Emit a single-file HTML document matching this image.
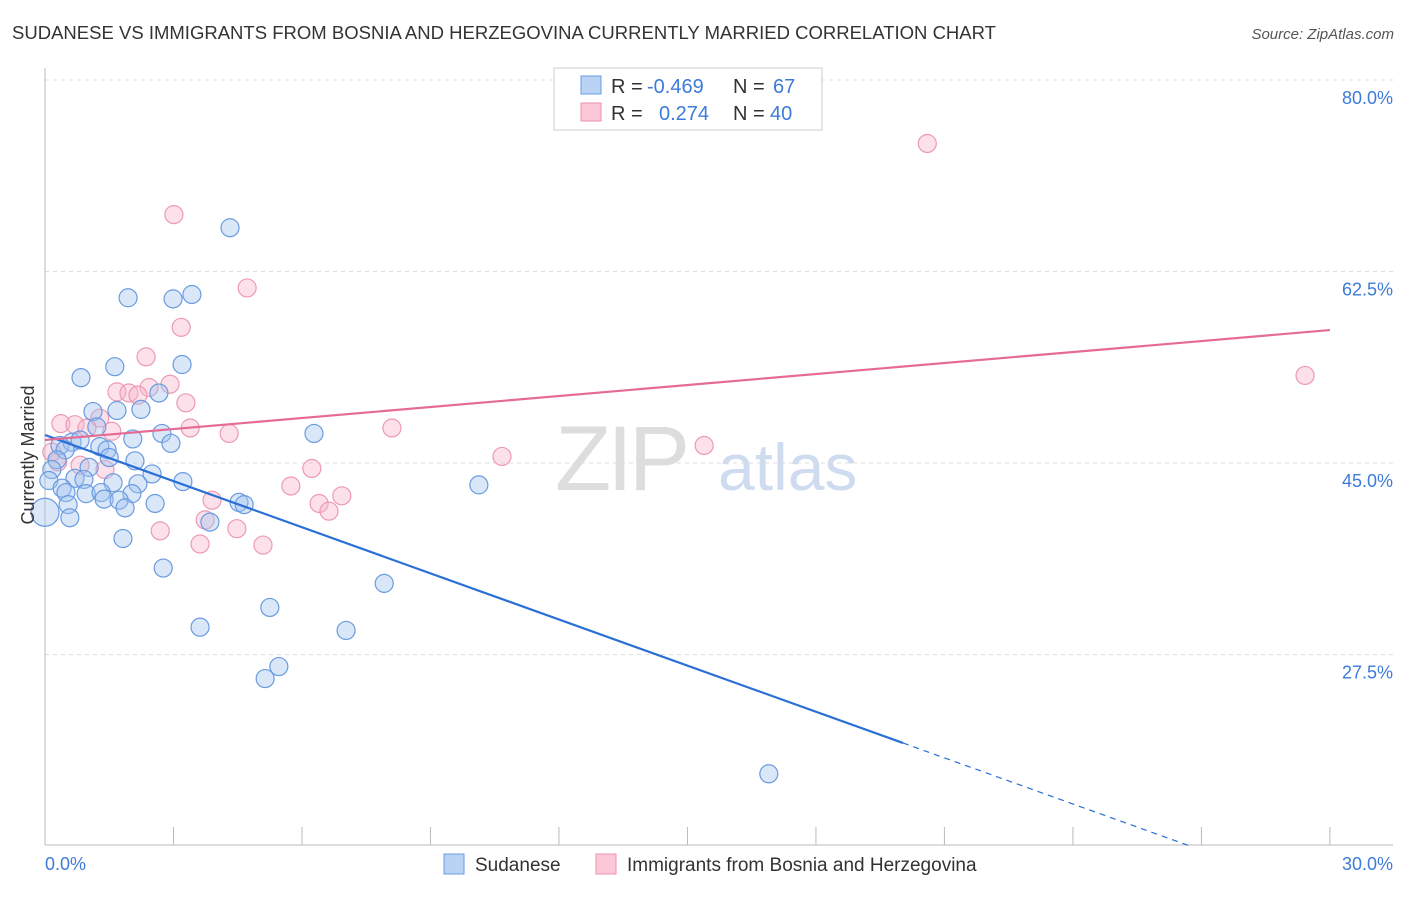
<!DOCTYPE html>
<html><head><meta charset="utf-8"><style>
body{margin:0;background:#fff;font-family:"Liberation Sans",sans-serif}
svg text{font-family:"Liberation Sans",sans-serif}
</style></head><body>
<svg id="chart" width="1406" height="892" xmlns="http://www.w3.org/2000/svg">
<text x="12" y="39" font-size="18" fill="#333" textLength="984" lengthAdjust="spacingAndGlyphs">SUDANESE VS IMMIGRANTS FROM BOSNIA AND HERZEGOVINA CURRENTLY MARRIED CORRELATION CHART</text>
<text x="1394" y="39" font-size="15" fill="#555" text-anchor="end" font-style="italic">Source: ZipAtlas.com</text>
<g>
<text x="555" y="490" font-size="92" fill="#ddd" font-family="Liberation Serif" letter-spacing="-4">ZIP</text>
<text x="718" y="490" font-size="66" fill="#cfdcf0">atlas</text>
</g>
<g id="grid"></g>
<g id="axes"></g>
<g id="pts"></g>
<g id="lines"></g>
<text transform="translate(34,455) rotate(-90)" font-size="18" fill="#333" text-anchor="middle">Currently Married</text>
<g font-size="20">
<rect x="554" y="68" width="268" height="62" fill="#fff" stroke="#ccc"/>
<rect x="581" y="76" width="20" height="18" fill="#b9d3f5" stroke="#6a9be0"/>
<rect x="581" y="103" width="20" height="18" fill="#fcc8d8" stroke="#ec92ae"/>
<text x="611" y="93" fill="#333">R =</text>
<text x="647" y="93" fill="#3d7bd9">-0.469</text>
<text x="733" y="93" fill="#333">N =</text>
<text x="773" y="93" fill="#3d7bd9">67</text>
<text x="611" y="120" fill="#333">R =</text>
<text x="659" y="120" fill="#3d7bd9">0.274</text>
<text x="733" y="120" fill="#333">N =</text>
<text x="770" y="120" fill="#3d7bd9">40</text>
</g>
<g>
<rect x="444" y="854" width="20" height="20" fill="#b9d3f5" stroke="#6a9be0"/>
<text x="475" y="871" font-size="19" fill="#333">Sudanese</text>
<rect x="596" y="854" width="20" height="20" fill="#fcc8d8" stroke="#ec92ae"/>
<text x="627" y="871" font-size="19" fill="#333">Immigrants from Bosnia and Herzegovina</text>
</g>
</svg>
<script>
const yTicks=[80,62.5,45,27.5];
const yTickLabels=["80.0%","62.5%","45.0%","27.5%"];
const xTicks=[0,3,6,9,12,15,18,21,24,27,30];
const blueX=[4.32,1.94,2.99,3.43,3.20,1.63,0.84,2.66,1.68,2.24,1.12,1.21,2.73,2.05,6.28,2.94,0.35,0.63,0.82,1.28,1.45,0.47,1.50,0.28,2.10,1.03,2.50,0.16,0.70,0.91,3.22,1.59,2.17,0.09,0.40,0.49,0.96,1.31,1.38,2.03,1.73,2.57,1.87,0.54,0.58,4.53,4.65,0.0,3.85,1.82,2.76,10.13,7.92,5.25,3.62,7.03,5.46,5.14,16.9];
const blueY=[66.5,60.1,60.0,60.4,54.0,53.8,52.8,51.4,49.8,49.9,49.7,48.3,47.7,47.2,47.7,46.8,46.6,46.9,47.1,46.5,46.2,46.2,45.5,45.3,45.2,44.6,44.0,44.4,43.6,43.5,43.3,43.2,43.1,43.4,42.7,42.3,42.2,42.3,41.7,42.2,41.6,41.3,40.9,41.2,40.0,41.4,41.2,40.5,39.6,38.1,35.4,43.0,34.0,31.8,30.0,29.7,26.4,25.3,16.6];
const pinkX=[20.6,3.01,4.72,3.18,2.36,2.92,2.43,1.68,1.96,2.17,3.29,1.28,0.37,0.70,0.98,1.56,3.39,8.10,4.30,15.39,10.67,0.30,0.82,1.40,6.23,5.74,6.93,3.90,6.40,6.63,3.74,4.48,2.69,3.62,5.09,29.42,0.16];
const pinkY=[74.2,67.7,61.0,57.4,54.7,52.2,51.9,51.5,51.4,51.2,50.5,49.1,48.6,48.5,48.2,47.9,48.2,48.2,47.7,46.6,45.6,45.1,44.8,44.4,44.5,42.9,42.0,41.6,41.3,40.6,39.8,39.0,38.8,37.6,37.5,53.0,46.0];
const blueTrend=[47.56,-1.405];
const pinkTrend=[47.1,0.335];
const NS="http://www.w3.org/2000/svg";
const X=v=>45+v*42.83, Y=v=>80+(80-v)*10.943;
function mk(tag,attrs,parent){const e=document.createElementNS(NS,tag);for(const k in attrs)e.setAttribute(k,attrs[k]);parent.appendChild(e);return e;}
const grid=document.getElementById('grid'),axes=document.getElementById('axes'),pts=document.getElementById('pts'),lines=document.getElementById('lines');
yTicks.forEach((t,i)=>{
 const l=mk('line',{x1:45,x2:1393,y1:Y(t),y2:Y(t),stroke:'#ddd','stroke-dasharray':'4 4'},grid);
 
 
 const tx=mk('text',{x:1393,y:Y(t)+24,'font-size':18,fill:'#3d7bd9','text-anchor':'end'},axes);
 tx.textContent=yTickLabels[i];
 
 
});
mk('line',{x1:45,x2:45,y1:68,y2:845,stroke:'#bbb'},axes);
mk('line',{x1:45,x2:1393,y1:845,y2:845,stroke:'#bbb'},axes);
xTicks.forEach(t=>{const l=mk('line',{x1:X(t),x2:X(t),y1:827,y2:845,stroke:'#bbb'},axes);
 
 });
let t0=mk('text',{x:45,y:870,'font-size':18,fill:'#3d7bd9'},axes);t0.textContent="0.0%";


let t1=mk('text',{x:1393,y:870,'font-size':18,fill:'#3d7bd9','text-anchor':'end'},axes);t1.textContent="30.0%";


pinkX.forEach((x,i)=>{const c=mk('circle',{cx:X(x),cy:Y(pinkY[i]),r:9,fill:'rgba(248,180,202,0.4)',stroke:'#ec9ab4','stroke-width':1.2},pts);
 
 });
blueX.forEach((x,i)=>{const c=mk('circle',{cx:X(x),cy:Y(blueY[i]),r:x===0?14:9,fill:'rgba(160,195,240,0.4)',stroke:'#6a9be0','stroke-width':1.2},pts);
 
 });
const bf=v=>blueTrend[0]+blueTrend[1]*v, pf=v=>pinkTrend[0]+pinkTrend[1]*v;
let bl=mk('line',{x1:X(0),y1:Y(bf(0)),x2:X(20.03),y2:Y(bf(20.03)),stroke:'#2a6fd6','stroke-width':2.2},lines);


const xe=(10-blueTrend[0])/blueTrend[1];
let bd=mk('line',{x1:X(20.03),y1:Y(bf(20.03)),x2:X(xe),y2:Y(10),stroke:'#2a6fd6','stroke-width':1.2,'stroke-dasharray':'6 5'},lines);


let pl=mk('line',{x1:X(0),y1:Y(pf(0)),x2:X(30),y2:Y(pf(30)),stroke:'#e56b95','stroke-width':2.2},lines);


</script>
</body></html>
